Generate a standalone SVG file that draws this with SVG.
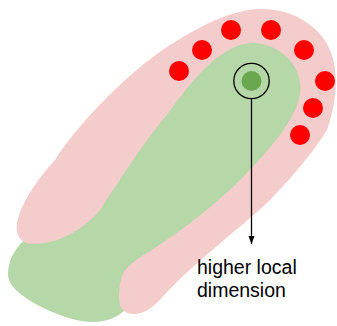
<svg xmlns="http://www.w3.org/2000/svg" width="337" height="326" viewBox="0 0 337 326">
  <style>
    .pink { fill: #f4cccc; }
    .green { fill: #b6d7a8; }
    .dot { fill: #ff0000; }
    .label { font-family: "Liberation Sans", Arial, sans-serif; font-size: 19.5px; fill: #000000; }
    .conn { stroke: #000000; stroke-width: 1.3; fill: none; }
  </style>
  <defs>
    <marker id="arrow" viewBox="0 0 8 8" refX="8" refY="4" markerWidth="8" markerHeight="8" markerUnits="userSpaceOnUse" orient="auto">
      <path d="M0,1 L8,4 L0,7 Z" fill="#000000"/>
    </marker>
  </defs>
  <g id="green-region">
    <path class="green" d="M 30,236 C 15,245 5,265 9,280 C 13,292 35,305 55,313 C 72,320 88,324 103,321 C 113,319 120,315 126,309 L 160,295 L 250,200 L 300,140 L 315,90 C 315,50 280,30 250,28 C 210,30 150,80 100,140 L 40,215 Z"/>
  </g>
  <g id="pink-region">
    <path class="pink" d="M 33,244 C 22,244 15,236 17,224 C 20,205 35,182 55,160 C 72,132 122,76 170,45 C 200,26 230,10 260,9 C 290,8 320,25 330,50 C 338,68 338,100 327,130 C 315,150 290,180 267,203 C 240,228 200,258 167,292 C 158,302 150,312 136,314 C 125,315 119,309 119,298 C 119,288 120,275 127,268 C 133,262 140,257 150,251 C 180,232 215,205 240,180 C 270,150 295,120 300,95 C 304,70 285,45 254,43 C 225,42 195,75 167,115 C 145,140 120,180 100,210 C 85,228 60,244 33,244 Z"/>
  </g>
  <g id="red-points">
    <circle class="dot" cx="179" cy="71" r="10"/>
    <circle class="dot" cx="202" cy="50" r="10"/>
    <circle class="dot" cx="231" cy="30" r="10"/>
    <circle class="dot" cx="271" cy="30" r="10"/>
    <circle class="dot" cx="304" cy="50" r="10"/>
    <circle class="dot" cx="325" cy="81" r="10"/>
    <circle class="dot" cx="313" cy="108" r="10"/>
    <circle class="dot" cx="300" cy="135" r="10"/>
  </g>
  <g id="focus-point">
    <circle cx="251.5" cy="81" r="10" fill="#6aa84f"/>
    <circle cx="251.5" cy="81" r="17.7" fill="none" stroke="#000000" stroke-width="1.3"/>
  </g>
  <g id="connectors">
    <line class="conn" x1="251.5" y1="98.7" x2="251.5" y2="244" marker-end="url(#arrow)"/>
  </g>
  <g id="label">
    <text class="label" x="197" y="273.5">higher local</text>
    <text class="label" x="197" y="296.5">dimension</text>
  </g>
</svg>
